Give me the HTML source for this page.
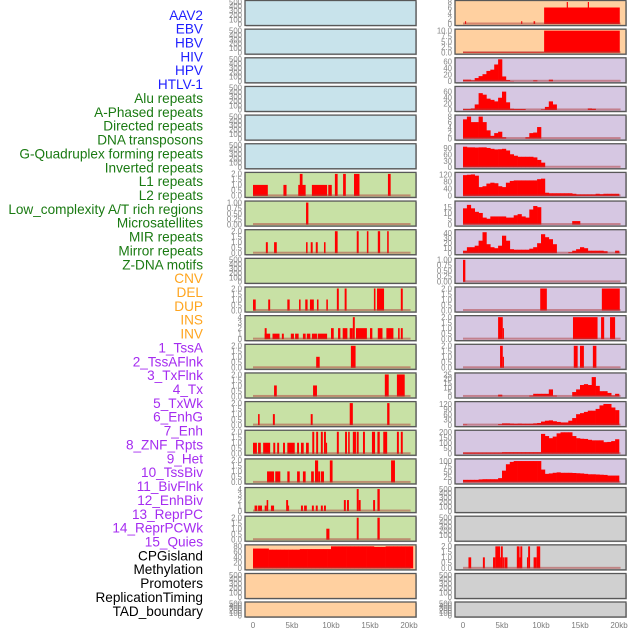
<!DOCTYPE html>
<html><head><meta charset="utf-8"><style>
html,body{margin:0;padding:0;background:#fff;}
svg{display:block;font-family:"Liberation Sans",sans-serif;}
</style></head><body>
<svg id="chart" width="630" height="630" viewBox="0 0 630 630"></svg>
<script>
// ---------- data (kb units) ----------
const labels = ["AAV2","EBV","HBV","HIV","HPV","HTLV-1","Alu repeats","A-Phased repeats","Directed repeats","DNA transposons","G-Quadruplex forming repeats","Inverted repeats","L1 repeats","L2 repeats","Low_complexity A/T rich regions","Microsatellites","MIR repeats","Mirror repeats","Z-DNA motifs","CNV","DEL","DUP","INS","INV","1_TssA","2_TssAFlnk","3_TxFlnk","4_Tx","5_TxWk","6_EnhG","7_Enh","8_ZNF_Rpts","9_Het","10_TssBiv","11_BivFlnk","12_EnhBiv","13_ReprPC","14_ReprPCWk","15_Quies","CPGisland","Methylation","Promoters","ReplicationTiming","TAD_boundary"];
const labelGroups = ["v","v","v","v","v","v","r","r","r","r","r","r","r","r","r","r","r","r","r","s","s","s","s","s","c","c","c","c","c","c","c","c","c","c","c","c","c","c","c","o","o","o","o","o"];
const xTickValues = [0,5,10,15,20];
const xTickLabels = ["0","5kb","10kb","15kb","20kb"];

// segments: [startKb, endKb, value]
const L_l1 = [[0,1.9,1],[3.9,4.3,1],[5.8,6.75,1],[6.0,6.35,2],[7.55,9.5,1],[9.65,10.1,1],[10.5,10.85,2],[11.55,11.9,2],[12.95,13.65,2],[17.3,17.65,2]];
const L_low = [[6.8,7.1,1]];
const L_mir = [[1.65,1.9,1],[2.7,3.05,1],[6.8,7.0,1],[7.4,7.65,1],[8.05,8.3,1],[9.1,9.3,1],[10.5,10.85,2],[13.3,13.55,2],[14.6,14.8,2],[16.0,16.3,2],[17.2,17.4,2]];
const L_del = [[0,0.35,1],[1.95,2.2,1],[4.4,4.7,1],[5.9,6.1,1],[6.7,7.0,1],[7.3,7.8,1],[8.2,8.4,1],[9.4,9.6,1],[10.75,11.0,2],[11.75,12.0,2],[15.5,15.7,2],[15.9,16.8,2],[18.95,19.2,2]];
const L_ins = [[1.5,2.2,1],[1.5,1.75,2],[2.5,3.4,1],[3.7,3.95,1],[4.85,5.25,1],[5.4,5.85,1],[6.4,6.75,1],[6.9,7.35,1],[7.55,8.2,1],[8.3,9.5,1],[10.0,10.35,2],[10.9,11.2,2],[11.5,12.1,2],[12.4,12.8,2],[12.8,13.05,4],[13.2,14.6,2],[15.0,15.3,2],[16.0,16.6,2],[17.1,18.0,2],[18.6,18.8,2],[18.95,19.2,2]];
const L_r12 = [[8.1,8.55,1],[12.55,13.15,2]];
const L_r13 = [[2.7,3.05,1],[7.7,8.2,1],[16.9,17.4,2],[18.45,19.45,2]];
const L_r14 = [[0.65,0.85,1],[2.55,2.8,1],[7.4,7.65,1],[12.4,12.8,2],[17.2,17.5,2]];
const L_r15 = [[0,0.5,1],[0.65,1.0,1],[1.3,2.2,1],[2.6,2.85,1],[3.1,3.35,1],[3.85,4.1,1],[4.4,5.35,1],[5.65,5.9,1],[6.15,6.5,1],[6.8,7.15,1],[7.6,7.85,2],[8.1,8.35,2],[8.7,8.95,2],[9.1,9.35,2],[9.35,9.5,1],[10.75,11.0,2],[11.8,12.05,2],[12.2,12.4,2],[12.8,13.2,2],[13.3,13.55,2],[14.1,14.35,2],[15.25,15.65,2],[15.95,16.25,2],[16.7,17.2,2],[18.45,18.7,2],[18.95,19.2,2]];
const L_r16 = [[1.8,2.7,1],[2.85,3.5,1],[4.4,4.7,1],[5.65,6.0,1],[6.4,6.75,1],[7.45,7.8,1],[7.95,8.35,2],[8.35,8.6,1],[8.7,9.1,1],[9.85,10.2,2],[17.7,18.2,2]];
const L_r17 = [[0.2,0.55,1],[0.65,1.15,1],[1.5,1.75,1],[1.75,1.95,2],[2.3,2.7,1],[4.25,4.5,2],[4.5,4.6,1],[6.15,6.4,1],[6.55,6.9,1],[7.55,7.8,1],[8.05,8.3,1],[8.7,8.95,1],[9.1,9.35,1],[11.65,11.9,2],[12.05,12.3,2],[13.3,13.55,4],[13.55,13.8,2],[15.4,15.65,2],[15.95,16.25,4]];
const L_r18 = [[9.4,9.8,1],[13.3,13.55,2],[15.95,16.25,2]];
// profiles: one value per 0.5kb bin starting at 0
const L_cpg = [72,72,72,72,68,68,68,68,68,68,68,68,70,70,70,70,70,70,70,70,80,80,80,80,80,80,80,80,80,80,80,78,78,78,80,80,80,80,80,80,80];

const R_aav2 = [[0.25,0.4,1],[7.45,7.6,1],[9.05,9.25,1],[10.4,20.1,6],[13.3,13.45,8],[16.0,16.15,8]];
const R_ebv = [[0,10.4,0.3],[10.4,20.1,10]];
const R_hiv = [5,5,3,10,16,22,32,36,52,68,15,4,1,0,0,0,0,0,3,0,0,0,5,0,0,0,0,0,0,0,0,0,0,0,0,0,0,0,0,0];
const R_alu = [3,3,5,18,55,50,37,33,28,40,60,25,4,3,3,3,0,0,0,0,2,10,28,18,0,0,0,0,0,0,0,0,5,4,0,0,0,0,0,0];
const R_dir = [7,8,6,6,8,6,3,1,2,2.5,0.5,0,0,0,0,0,0.5,2,2.2,4.2,0,0,0,0,0,0,0,0,0,0,0,0,0,0,0,0,0,0,0,0];
const R_dna = [98,95,95,94,95,95,92,88,85,86,88,80,62,55,50,50,50,50,47,35,22,0,0,0,0,0,0,0,0,0,0,0,0,0,0,0,0,0,0,0];
const R_gq = [118,120,122,115,50,55,70,75,72,55,50,75,85,88,88,88,88,88,88,95,98,18,15,15,15,15,15,15,12,9,9,9,9,9,12,10,12,12,12,12];
const R_inv = [14,17,14,11,10,6,5,7,7,7,7,6,6,8,9,7,6,13,16,15,0,0,0,0,0,0,0,0,3,3,0,0,0,0,0,0,0,0,0,0];
const R_l2 = [5,12,12,15,25,42,18,12,10,15,35,25,8,7,7,7,7,9,12,20,38,32,28,18,0,0,0,2,5,8,12,10,5,5,5,5,4,0,0,5];
const R_low = [[0,0.3,1]];
const R_r10 = [[9.9,10.75,2],[17.8,20.1,2]];
const R_r11 = [[4.5,5.1,2],[5.1,5.25,1],[14.1,17.25,2],[17.7,18.1,2],[18.85,19.5,2]];
const R_r12 = [[4.75,5.1,2],[5.1,5.25,1],[14.2,14.7,2],[15.0,15.5,2],[16.65,17.1,2]];
const R_r13 = [0,0,0,0,0,0,0,0,0,2,0,0,0,0,0,0,0,1,3,3,3,3,8,1,0,0,0,0,5,8,13,14,13,22,12,6,6,4,1,3];
const R_r14 = [3,0,0,0,0,0,0,0,0,5,10,10,9,8,9,8,8,8,10,12,20,25,27,22,18,15,15,25,40,62,68,75,82,82,92,112,120,120,100,85];
const R_r15 = [12,12,12,12,12,12,12,12,12,12,15,15,15,15,15,15,15,15,15,15,185,165,145,160,190,200,200,200,165,145,140,138,130,125,125,125,108,110,118,135];
const R_r16 = [12,12,12,12,14,15,15,15,15,20,55,85,96,100,100,100,100,100,100,100,60,40,42,45,47,45,45,45,44,43,42,40,38,38,37,36,35,32,32,32];
const R_meth = [[0.7,1.05,1],[2.55,2.8,1],[3.85,4.15,1],[4.15,4.75,2],[4.75,4.85,1],[4.85,5.1,2],[5.1,5.25,1],[5.3,5.7,1],[6.9,7.25,2],[7.25,7.35,1],[7.35,7.6,2],[8.2,8.35,1],[8.35,8.6,2],[9.05,9.45,1],[9.45,9.9,2]];

// ---------- styles ----------
const BG = {b:"#c8e3eb",g:"#c8e1a5",p:"#ffd0a0",l:"#d6c7e2",k:"#d0d0d0"};
const GROUP_COLOR = {v:"#1f1fff",r:"#1a7a12",s:"#ffa51f",c:"#a52cf0",o:"#000000"};
const T500 = [[0,"0"],[100,"100"],[200,"200"],[300,"300"],[400,"400"],[500,"500"]];
const T2 = [[0,"0.0"],[0.5,"0.5"],[1,"1.0"],[1.5,"1.5"],[2,"2.0"]];
const T1 = [[0,"0.00"],[0.25,"0.25"],[0.5,"0.50"],[0.75,"0.75"],[1,"1.00"]];
const T4 = [[0,"0"],[1,"1"],[2,"2"],[3,"3"],[4,"4"]];
function ticksOf(vals){return vals.map(v=>[v,String(v)]);}

const leftPanels = [
 {bg:"b",max:500,t:T500},{bg:"b",max:500,t:T500},{bg:"b",max:500,t:T500},{bg:"b",max:500,t:T500},{bg:"b",max:500,t:T500},{bg:"b",max:500,t:T500},
 {bg:"g",max:2,t:T2,seg:L_l1},{bg:"g",max:1,t:T1,seg:L_low},{bg:"g",max:2,t:T2,seg:L_mir},{bg:"g",max:500,t:T500},
 {bg:"g",max:2,t:T2,seg:L_del},{bg:"g",max:4,t:T4,seg:L_ins},{bg:"g",max:2,t:T2,seg:L_r12},{bg:"g",max:2,t:T2,seg:L_r13},
 {bg:"g",max:2,t:T2,seg:L_r14},{bg:"g",max:2,t:T2,seg:L_r15},{bg:"g",max:2,t:T2,seg:L_r16},{bg:"g",max:4,t:T4,seg:L_r17},
 {bg:"g",max:2,t:T2,seg:L_r18},{bg:"p",max:80,t:ticksOf([0,20,40,60,80]),prof:L_cpg},{bg:"p",max:500,t:T500},{bg:"p",max:500,t:T500}
];
const rightPanels = [
 {bg:"p",max:8,t:ticksOf([0,2,4,6,8]),seg:R_aav2},{bg:"p",max:10,t:[[0,"0.0"],[2.5,"2.5"],[5,"5.0"],[7.5,"7.5"],[10,"10.0"]],seg:R_ebv},
 {bg:"l",max:68,t:ticksOf([0,20,40,60]),prof:R_hiv},{bg:"l",max:72,t:ticksOf([0,20,40,60]),prof:R_alu},
 {bg:"l",max:8,t:ticksOf([0,2,4,6,8]),prof:R_dir},{bg:"l",max:105,t:ticksOf([0,30,60,90]),prof:R_dna},
 {bg:"l",max:125,t:ticksOf([0,40,80,120]),prof:R_gq},{bg:"l",max:19,t:ticksOf([0,5,10,15]),prof:R_inv},
 {bg:"l",max:44,t:ticksOf([0,10,20,30,40]),prof:R_l2},{bg:"l",max:1,t:T1,seg:R_low},
 {bg:"l",max:2,t:T2,seg:R_r10},{bg:"l",max:2,t:T2,seg:R_r11},{bg:"l",max:2,t:T2,seg:R_r12},
 {bg:"l",max:25,t:ticksOf([0,5,10,15,20,25]),prof:R_r13},{bg:"l",max:125,t:ticksOf([0,30,60,90,120]),prof:R_r14},
 {bg:"l",max:205,t:ticksOf([0,50,100,150,200]),prof:R_r15},{bg:"l",max:103,t:ticksOf([0,25,50,75,100]),prof:R_r16},
 {bg:"k",max:500,t:T500},{bg:"k",max:500,t:T500},{bg:"k",max:2,t:T2,seg:R_meth},{bg:"k",max:500,t:T500},{bg:"k",max:500,t:T500}
];

// ---------- drawing ----------
const NS="http://www.w3.org/2000/svg";
const svg=document.getElementById("chart");
function el(tag,attrs,parent){const e=document.createElementNS(NS,tag);for(const k in attrs)e.setAttribute(k,attrs[k]);(parent||svg).appendChild(e);return e;}

// labels
labels.forEach((txt,i)=>{
  const t=el("text",{x:203,y:(15+i*13.86+4.8).toFixed(1),"text-anchor":"end","font-size":"13.6",fill:GROUP_COLOR[labelGroups[i]]});
  t.textContent=txt;
  
  
});

function drawColumn(panels,boxX,x0,name){
  const boxW=171;
  const xs=kb=>x0+kb*7.8;
  panels.forEach((p,i)=>{
    const last=(i===21);
    const top=last?602:0.5+28.65*i;
    const h=last?15:25;
    const y0=top+h-1.5, y1=top+1.5;
    const ys=v=>y0-(v/p.max)*(y0-y1);
    const g=el("g",{});
    
    
    el("rect",{x:boxX+1,y:top+1,width:boxW,height:h,fill:"#9a9a9a",opacity:"0.6"},g);
    const bg=el("rect",{x:boxX,y:top,width:boxW,height:h,fill:BG[p.bg],stroke:"#585858","stroke-width":1.3},g);
    
    
    p.t.forEach(tk=>{
      const t=el("text",{x:boxX-3,y:(ys(tk[0])+2.8).toFixed(1),"text-anchor":"end","font-size":"7.8",fill:"#858585"},g);
      t.textContent=tk[1];
      
      
    });
    if(p.seg||p.prof){
      if(p.seg) p.seg.forEach(s=>{
        const r=el("rect",{x:xs(s[0]).toFixed(2),y:ys(s[2]).toFixed(2),width:Math.max(1,xs(s[1])-xs(s[0])).toFixed(2),height:(y0-ys(s[2])).toFixed(2),fill:"#ff0000"},g);
        
        
      });
      if(p.prof) p.prof.forEach((v,b)=>{
        if(v<=0) return;
        const r=el("rect",{x:xs(b*0.5).toFixed(2),y:ys(v).toFixed(2),width:(xs(0.5)-xs(0)+0.3).toFixed(2),height:(y0-ys(v)).toFixed(2),fill:"#ff0000"},g);
        
        
      });
      const bl=el("rect",{x:xs(0),y:y0-1.5,width:xs(20.2)-xs(0),height:2,fill:"#b03a3a",opacity:"0.5"},g);
      
      
    }
  });
  xTickValues.forEach((v,i)=>{
    const t=el("text",{x:xs(v),y:628,"text-anchor":"middle","font-size":"8",fill:"#7a7a7a"});
    t.textContent=xTickLabels[i];
    
    
  });
}
drawColumn(leftPanels,245,253,"left");
drawColumn(rightPanels,455,463,"right");
</script>
</body></html>
